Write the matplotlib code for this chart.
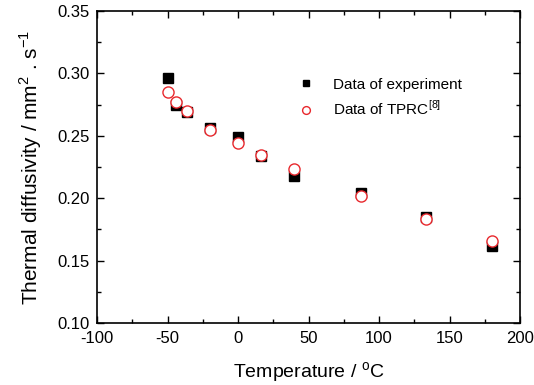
import matplotlib
matplotlib.use("Agg")
import matplotlib.pyplot as plt
from matplotlib.ticker import MultipleLocator

plt.rcParams['font.family'] = ['Liberation Sans', 'DejaVu Sans']
plt.rcParams['mathtext.fontset'] = 'custom'
plt.rcParams['mathtext.rm'] = 'Liberation Sans'
plt.rcParams['axes.unicode_minus'] = False

exp_T = [-50, -44, -36, -20, 0, 16, 40, 87, 133, 180]
exp_a = [0.296, 0.275, 0.269, 0.256, 0.249, 0.234, 0.218, 0.204, 0.185, 0.162]
tprc_T = [-50, -44, -36, -20, 0, 16, 40, 87, 133, 180]
tprc_a = [0.285, 0.277, 0.270, 0.255, 0.244, 0.235, 0.223, 0.202, 0.183, 0.166]

fig = plt.figure(figsize=(5.34, 3.85), dpi=100)
ax = fig.add_axes([97/534, 1-323/385, (520-97)/534, (323-11)/385])

ax.plot(exp_T, exp_a, 's', color='black', markersize=7, linestyle='none', label='Data of experiment')
ax.plot(tprc_T, tprc_a, 'o', markerfacecolor='white', markeredgecolor='#e8282d', markeredgewidth=1.0,
        markersize=8, linestyle='none', label='Data of TPRC$^{[8]}$')

ax.set_xlim(-100, 200)
ax.set_ylim(0.10, 0.35)
ax.xaxis.set_major_locator(MultipleLocator(50))
ax.xaxis.set_minor_locator(MultipleLocator(25))
ax.yaxis.set_major_locator(MultipleLocator(0.05))
ax.yaxis.set_minor_locator(MultipleLocator(0.025))
ax.yaxis.set_major_formatter(plt.FormatStrFormatter('%.2f'))
ax.tick_params(which='both', direction='in', top=True, right=True, labelsize=12, width=1)
ax.tick_params(which='major', length=5)
ax.tick_params(which='minor', length=3)
ax.tick_params(axis='x', pad=6)
ax.tick_params(axis='y', pad=5)
for s in ax.spines.values():
    s.set_linewidth(1.2)

ax.set_xlabel('Temperature / $^{\\mathrm{o}}$C', fontsize=14, labelpad=10)
ax.set_ylabel('Thermal diffusivity / mm$^2$ . s$^{-1}$', fontsize=15, labelpad=10)

ax.legend(loc='upper left', bbox_to_anchor=(0.425, 0.83), frameon=False, fontsize=11,
          markerscale=0.7, handletextpad=0.8, labelspacing=0.5)

fig.savefig('out.png', dpi=100)
